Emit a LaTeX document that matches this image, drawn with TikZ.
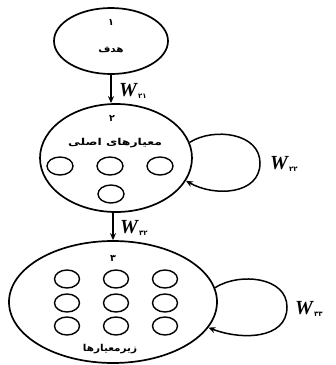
\documentclass[tikz,border=0pt]{standalone}
\usepackage{fontspec}
\setmainfont{Liberation Serif}
\newfontfamily\fafont[Script=Arabic]{DejaVu Sans}
\TeXXeTstate=1
\usetikzlibrary{shapes.geometric,arrows.meta}
\newcommand\Wlab[1]{\textbf{\textit{W}}\raisebox{-0.3ex}{\fafont\fontsize{7}{8}\selectfont\bfseries #1}}
\begin{document}
\begin{tikzpicture}[x=1pt,y=-1pt,
  bigell/.style={draw,ellipse,line width=1.7pt,inner sep=0pt},
  smallc/.style={draw,ellipse,line width=1.4pt,inner sep=0pt,minimum width=26pt,minimum height=18pt},
  fa/.style={font=\fafont\bfseries\fontsize{9.5}{10}\selectfont,inner sep=0pt},
  wlab/.style={font=\fontsize{20}{21}\selectfont,inner sep=0pt,anchor=west},
  arr/.style={line width=1.5pt,-{Stealth[length=7pt,width=6pt]}}]
\useasboundingbox (0,0) rectangle (336,365);
% ellipses
\node[bigell,minimum width=114pt,minimum height=66pt] (e1) at (111,41) {};
\node[bigell,minimum width=152pt,minimum height=108pt] (e2) at (116,158) {};
\node[bigell,minimum width=208pt,minimum height=122pt] (e3) at (113,302) {};
% texts
\node[fa] (n1) at (111,22) {۱};
\node[fa,xscale=1.1] (t1) at (111,50) {\beginR هدف\endR};
\node[fa] (n2) at (112,118) {۲};
\node[fa,xscale=1.3] (t2) at (115,143) {\beginR معیارهای اصلی\endR};
\node[fa] (n3) at (113,258) {۳};
\node[fa,xscale=1.1] (t3) at (110,349) {\beginR زیرمعیارها\endR};
% inner circles level 2
\node[smallc] (c2a) at (60,166) {};
\node[smallc] (c2b) at (110,166) {};
\node[smallc] (c2c) at (160,166) {};
\node[smallc] (c2d) at (111,194) {};
% inner circles level 3
\foreach \i/\y in {1/279,2/303,3/326}{
  \foreach \j/\x in {1/67,2/116,3/165}{
    \node[smallc,minimum width=25pt] (c3-\i-\j) at (\x,\y) {};
  }
}
% arrows between levels
\draw[arr] (e1.south) -- (e1.south |- e2.north);
\draw[arr] (e2.south -| e3.north) -- (e3.north);
% loops
\coordinate (l2) at (260,163);
\coordinate (l3) at (287,307);
\draw[arr] (e2.12) .. controls (214,127) and (260,133) .. (l2) .. controls (260,195) and (214,197) .. (e2.-18);
\draw[arr] (e3.8) .. controls (240,272) and (287,277) .. (l3) .. controls (287,340) and (240,340) .. (e3.-15);
% weights
\node[wlab] (w21) at (119,91) {\Wlab{۲۱}};
\node[wlab] (w22) at (270,164) {\Wlab{۲۲}};
\node[wlab] (w32) at (120,228) {\Wlab{۳۲}};
\node[wlab] (w33) at (295,309) {\Wlab{۳۳}};
\end{tikzpicture}
\end{document}
